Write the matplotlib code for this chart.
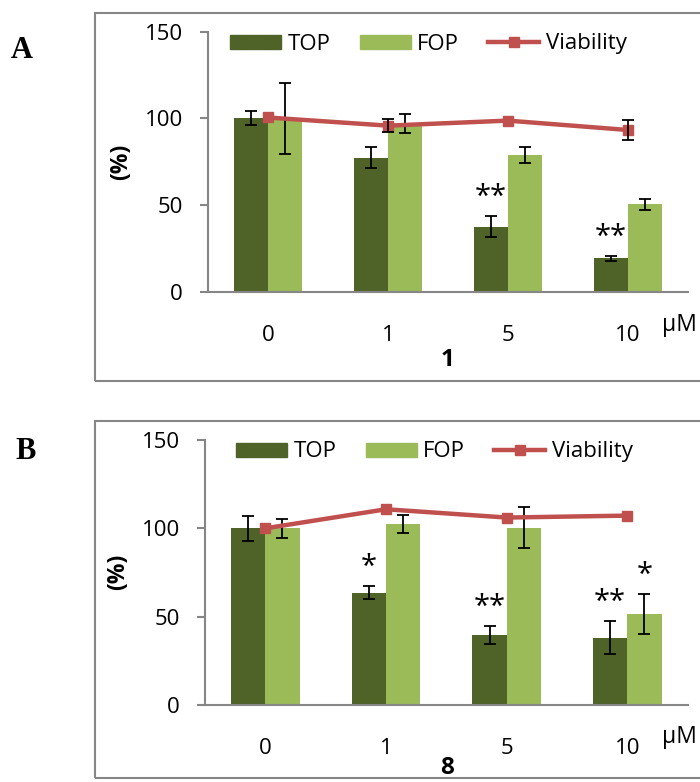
import numpy as np
import matplotlib.pyplot as plt
from matplotlib.patches import Rectangle, Patch
from matplotlib.lines import Line2D

plt.rcParams['font.family'] = ['Open Sans', 'DejaVu Sans']

# === Data ===
conc = ["0", "1", "5", "10"]

top_a = [100, 77.4, 37.4, 19.2]
top_a_err = [4, 6, 6, 1.3]
fop_a = [100, 97, 79.0, 50.4]
fop_a_err = [20.5, 5.5, 4.5, 3.2]
via_a = [100.5, 95.8, 98.7, 93.3]
via_a_err = [0, 3.8, 0, 5.7]
top_a_sig = ["", "", "**", "**"]
fop_a_sig = ["", "", "", ""]

top_b = [100, 63.6, 39.6, 38.1]
top_b_err = [7, 3.7, 5.3, 9.2]
fop_b = [100, 102.5, 100.4, 51.5]
fop_b_err = [5.3, 5, 11.6, 11.4]
via_b = [100, 110.8, 106.1, 107.2]
via_b_err = [0, 0, 0, 0]
top_b_sig = ["", "*", "**", "**"]
fop_b_sig = ["", "", "", "*"]

TOP_C = "#4F6228"
FOP_C = "#9BBB59"
VIA_C = "#C0504D"
GRAY = "#868686"

W, H = 700, 782
fig = plt.figure(figsize=(7, 7.82), dpi=100)


def px(x, y):
    return x / W, 1 - y / H


def draw_panel(rect, top, top_err, fop, fop_err, via, via_err, top_sig, fop_sig,
               letter, letter_xy, compound, comp_xy, ylab_xy, um_xy, leg_xy, frame):
    # frame around panel
    fx, fy, fw, fh = frame
    fig.add_artist(Rectangle((fx / W, 1 - (fy + fh) / H), fw / W, fh / H,
                             transform=fig.transFigure, fill=False,
                             edgecolor=GRAY, lw=1.5, clip_on=False))
    ax = fig.add_axes(rect)
    x = np.arange(len(conc))
    bw = 0.284
    ax.bar(x - bw / 2, top, bw, color=TOP_C, zorder=2)
    ax.bar(x + bw / 2, fop, bw, color=FOP_C, zorder=2)
    ekw = dict(fmt="none", ecolor="black", elinewidth=1.3, capsize=4.3,
               capthick=1.3, zorder=3)
    ax.errorbar(x - bw / 2, top, yerr=top_err, **ekw)
    ax.errorbar(x + bw / 2, fop, yerr=fop_err, **ekw)
    ax.plot(x, via, color=VIA_C, lw=3.2, marker="s", ms=7.5, zorder=4)
    ve = np.array(via_err)
    if (ve > 0).any():
        m = ve > 0
        ax.errorbar(x[m], np.array(via)[m], yerr=ve[m], **dict(ekw, zorder=5))

    # significance marks
    for i in range(len(conc)):
        for xx, v, e, s in [(x[i] - bw / 2, top[i], top_err[i], top_sig[i]),
                            (x[i] + bw / 2, fop[i], fop_err[i], fop_sig[i])]:
            if s:
                ax.annotate(s, (xx, v + e), xytext=(0, 3), textcoords="offset points",
                            ha="center", va="bottom", fontsize=21)

    ax.set_xlim(-0.5, 3.5)
    ax.set_ylim(0, 150)
    ax.set_yticks([0, 50, 100, 150])
    ax.set_xticks(x)
    ax.set_xticklabels(conc)
    for s in ["top", "right"]:
        ax.spines[s].set_visible(False)
    for s in ["left", "bottom"]:
        ax.spines[s].set_color(GRAY)
        ax.spines[s].set_linewidth(1.5)
    ax.tick_params(axis="x", length=0, pad=24, labelsize=16)
    ax.tick_params(axis="y", length=6, width=1.5, color=GRAY, pad=12, labelsize=16)

    fig.text(*px(*ylab_xy), "(%)", rotation=90, ha="center", va="center",
             fontsize=16.5, fontweight="bold")
    fig.text(*px(*um_xy), "\u03bcM", ha="center", va="center", fontsize=16.5)
    fig.text(*px(*comp_xy), compound, ha="center", va="center",
             fontsize=17.5, fontweight="bold")
    fig.text(*px(*letter_xy), letter, ha="center", va="center", fontsize=22,
             fontweight="bold", family="Liberation Serif")

    handles = [Patch(color=TOP_C, label="TOP"), Patch(color=FOP_C, label="FOP"),
               Line2D([], [], color=VIA_C, lw=3.2, marker="s", ms=7.5, label="Viability")]
    fig.legend(handles=handles, loc="center left", bbox_to_anchor=px(*leg_xy),
               bbox_transform=fig.transFigure, ncol=3, frameon=False, fontsize=16,
               borderpad=0, borderaxespad=0, handlelength=2.3, handleheight=0.6,
               handletextpad=0.3, columnspacing=1.3)
    return ax


draw_panel([208 / W, 1 - 291.7 / H, 479.7 / W, 260 / H],
           top_a, top_a_err, fop_a, fop_a_err, via_a, via_a_err, top_a_sig, fop_a_sig,
           "A", (22, 50), "1", (448, 360), (121, 162), (679, 325), (230, 44),
           (94.5, 13, 640, 368))

draw_panel([205 / W, 1 - 705 / H, 482.7 / W, 265 / H],
           top_b, top_b_err, fop_b, fop_b_err, via_b, via_b_err, top_b_sig, fop_b_sig,
           "B", (26, 452), "8", (447, 768), (118, 572), (679, 737), (236, 452),
           (94.5, 421, 640, 357))

fig.savefig("out.png", dpi=100)
